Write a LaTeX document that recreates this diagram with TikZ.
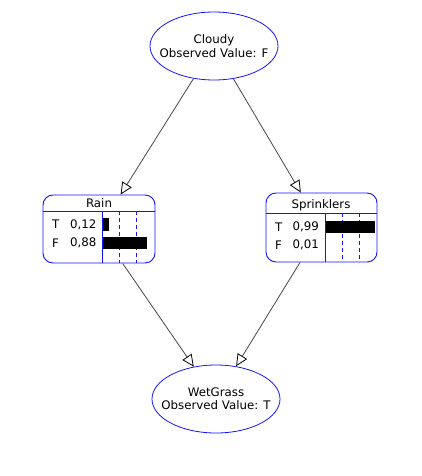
\documentclass[tikz,border=0pt]{standalone}
\usepackage{fontspec}
\setmainfont{DejaVu Sans}
\usetikzlibrary{shapes.geometric,arrows.meta}
\definecolor{nodeblue}{RGB}{20,20,250}
\definecolor{edgegray}{RGB}{70,70,70}
\tikzset{
  x=1pt, y=-1pt,
  obsnode/.style={ellipse, draw=nodeblue, line width=0.8pt, minimum width=128pt, minimum height=68pt, inner sep=0pt},
  obstext/.style={align=center, inner sep=0pt, font=\fontsize{11.8}{13.3}\selectfont},
  tablebox/.style={draw=nodeblue, line width=0.9pt, rounded corners=10pt, inner sep=0pt},
  edge/.style={draw=edgegray, line width=0.8pt, -{Triangle[open, length=12pt, width=11pt, line width=0.8pt, color=black]}},
  sep/.style={draw=nodeblue, line width=0.9pt},
  dsep/.style={draw=nodeblue, line width=0.9pt, dash pattern=on 4pt off 3pt},
  lbl/.style={font=\fontsize{11.8}{13}\selectfont, inner sep=0pt},
}
\begin{document}
\begin{tikzpicture}
\useasboundingbox (0,0) rectangle (421,476);
% nodes
\node[obsnode] (cloudy) at (214,46) {};
\node[obstext] (cloudyt) at (214,46) {Cloudy\\Observed Value: F};
\node[obsnode] (wetgrass) at (216,399) {};
\node[obstext] (wetgrasst) at (216,399) {WetGrass\\Observed Value: T};
\node[tablebox, minimum width=112pt, minimum height=68pt] (rain) at (99,229) {};
\node[tablebox, minimum width=111pt, minimum height=69pt] (spr) at (321.5,227.5) {};
% Rain internals
\draw[sep] (43,211) -- (155,211);
\draw[sep] (102.3,211) -- (102.3,263);
\draw[dsep] (119.3,211) -- (119.3,263);
\draw[dsep] (136,211) -- (136,263);
\fill[black] (102.8,218) rectangle (108.9,230.7);
\fill[black] (102.8,236.7) rectangle (147.3,249);
\node[lbl] (raint) at (99,203) {Rain};
\node[lbl, anchor=west] (rainTl) at (52,224.4) {T};
\node[lbl, anchor=west] (rainTv) at (70,224.4) {0,12};
\node[lbl, anchor=west] (rainFl) at (52,242.8) {F};
\node[lbl, anchor=west] (rainFv) at (70,242.8) {0,88};
% Sprinklers internals
\draw[sep] (266,213) -- (377,213);
\draw[sep] (325.7,213) -- (325.7,262);
\draw[dsep] (342.7,213) -- (342.7,262);
\draw[dsep] (359,213) -- (359,262);
\fill[black] (326.2,221) rectangle (375,232.7);
\node[lbl] (sprt) at (321,205.7) {Sprinklers};
\node[lbl, anchor=west] (sprTl) at (275,226.7) {T};
\node[lbl, anchor=west] (sprTv) at (292.3,226.7) {0,99};
\node[lbl, anchor=west] (sprFl) at (275,245) {F};
\node[lbl, anchor=west] (sprFv) at (292.3,245) {0,01};
% edges
\draw[edge] (cloudy) -- (rain);
\draw[edge] (cloudy) -- (spr);
\draw[edge] (rain) -- (wetgrass);
\draw[edge] (spr) -- (wetgrass);
\end{tikzpicture}
\end{document}
